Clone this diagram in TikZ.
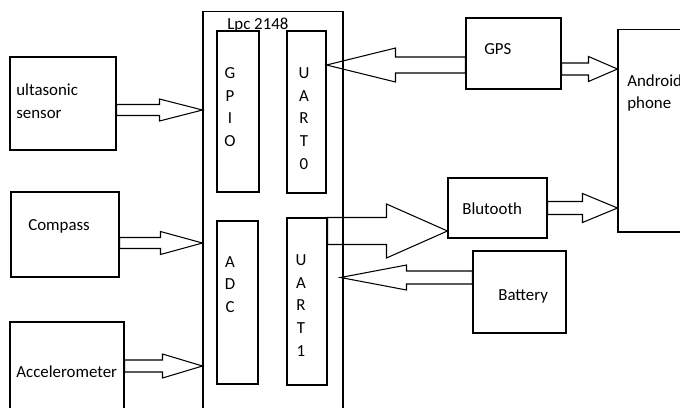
\documentclass[tikz,border=0pt]{standalone}
\usepackage{fontspec}
\setmainfont{Carlito}
\usepackage{tikz}
\usetikzlibrary{calc,positioning}

\tikzset{
  box/.style={draw, line width=0.6pt, inner sep=0pt},
  txt/.style={inner sep=0pt, anchor=west, align=left, font=\fontsize{9.6}{13}\selectfont},
  pins/.style={inner sep=0pt, align=center, font=\fontsize{9.6}{12.9}\selectfont},
  barrow/.style={draw, line width=0.6pt, line join=miter}
}

\newcommand{\blockarrow}[5]{%
  \path (#1) coordinate (bs) (#2) coordinate (be);
  \draw[barrow] ($(bs)+(0,-#3)$) -- ($(be)+(#5,-#3)$) -- ($(be)+(#5,-#4)$) -- (be)
    -- ($(be)+(#5,#4)$) -- ($(be)+(#5,#3)$) -- ($(bs)+(0,#3)$) -- cycle;
}

\begin{document}
\begin{tikzpicture}[x=0.02cm, y=-0.02cm]
			\useasboundingbox (0,0) rectangle (680,407);
			\clip (0,0) rectangle (680,407);

			\node[box, minimum width=2.8cm, minimum height=8.08cm] (lpc) at (273,213) {};
			\node[txt] (lpclabel) at (227,25) {Lpc 2148};
			\node[box, minimum width=0.84cm, minimum height=3.22cm] (gpio) at (238,111.5) {};
			\node[box, minimum width=0.78cm, minimum height=3.24cm] (uart0) at (306.5,112) {};
			\node[box, minimum width=0.82cm, minimum height=3.26cm] (adc) at (237.5,302.5) {};
			\node[box, minimum width=0.8cm, minimum height=3.34cm] (uart1) at (307,301.5) {};
			\node[pins] (gpiotxt) at (230,107) {G\\P\\I\\O};
			\node[pins] (uart0txt) at (304,118.5) {U\\A\\R\\T\\0};
			\node[pins] (adctxt) at (230,284.5) {A\\D\\C};
			\node[pins] (uart1txt) at (301,305.5) {U\\A\\R\\T\\1};

			\node[box, minimum width=2.12cm, minimum height=1.86cm] (us) at (63,103.5) {};
			\node[txt] (ustxt) at (16,101.5) {ultasonic\\sensor};
			\node[box, minimum width=2.16cm, minimum height=1.7cm] (compass) at (65,234.5) {};
			\node[txt] (compasstxt) at (28,226) {Compass};
			\node[box, minimum width=2.28cm, minimum height=1.86cm] (accel) at (67,368.5) {};
			\node[txt] (acceltxt) at (16,372) {Accelerometer};

			\node[box, minimum width=1.9cm, minimum height=1.42cm] (gps) at (513.5,53.5) {};
			\node[txt] (gpstxt) at (484,49) {GPS};
			\node[box, minimum width=1.44cm, minimum height=4.06cm] (android) at (654,130.5) {};
			\node[txt] (androidtxt) at (627,93) {Android\\phone};
			\node[box, minimum width=1.98cm, minimum height=1.2cm] (bt) at (497.5,208) {};
			\node[txt] (bttxt) at (462,209) {Blutooth};
			\node[box, minimum width=1.86cm, minimum height=1.64cm] (bat) at (519.5,292) {};
			\node[txt] (battxt) at (498,296) {Battery};

			\coordinate (a1) at ($(us.east)+(0,6.5)$);
			\blockarrow{a1}{lpc.west |- a1}{5.5}{11}{-43}
			\coordinate (a2) at ($(compass.east)+(0,8.5)$);
			\blockarrow{a2}{lpc.west |- a2}{5.5}{11.5}{-42}
			\coordinate (a3) at ($(accel.east)+(0,-2.5)$);
			\blockarrow{a3}{lpc.west |- a3}{6}{12}{-40}
			\coordinate (a4) at ($(gps.west)+(0,11.5)$);
			\blockarrow{a4}{uart0.east |- a4}{8}{17}{69}
			\coordinate (a5) at ($(gps.east)+(0,15.5)$);
			\blockarrow{a5}{android.west |- a5}{6}{12.5}{-29}
			\coordinate (a6) at ($(uart1.north east)+(0,13.5)$);
			\blockarrow{a6}{bt.west |- a6}{13.5}{27}{-61}
			\coordinate (a7) at (bt.east);
			\blockarrow{a7}{android.west |- a7}{6.5}{14.5}{-35}
			\coordinate (a8) at ($(bat.west)+(0,-14.5)$);
			\coordinate (t8) at ($(lpc.east |- a8)+(-3,0)$);
			\blockarrow{a8}{t8}{6.5}{12.5}{66}
		\end{tikzpicture}
\end{document}
